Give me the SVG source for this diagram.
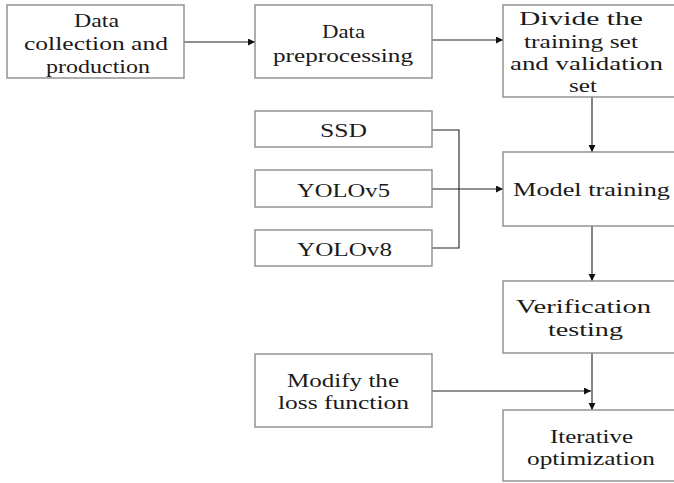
<svg xmlns="http://www.w3.org/2000/svg" width="674" height="483" viewBox="0 0 674 483">
<style>
.box{fill:#fff;stroke:#8c8c8c;stroke-width:1.4}
.t{font-family:'Liberation Serif','Times New Roman',serif;font-size:19.5px;fill:#1a1a1a;text-anchor:middle}
.c{fill:none;stroke:#222;stroke-width:1.1}
</style>
<defs>
<marker id="ah" markerUnits="userSpaceOnUse" markerWidth="8" markerHeight="8" refX="7" refY="3.5" orient="auto">
<path d="M0,0 L7,3.5 L0,7 z" fill="#111"/>
</marker>
</defs>
<rect width="674" height="483" fill="#fff"/>
<g id="connectors">
<path class="c" d="M184,42 H255" marker-end="url(#ah)"/>
<path class="c" d="M432,40 H503" marker-end="url(#ah)"/>
<path class="c" d="M592,97 V152" marker-end="url(#ah)"/>
<path class="c" d="M432,130 H459 V248 H432"/>
<path class="c" d="M432,189 H503" marker-end="url(#ah)"/>
<path class="c" d="M592,226 V281" marker-end="url(#ah)"/>
<path class="c" d="M592,353 V410" marker-end="url(#ah)"/>
<path class="c" d="M432,391 H591" marker-end="url(#ah)"/>
</g>
<g id="n1">
<rect class="box" x="7" y="5" width="177" height="73"/>
<text class="t" x="96.5" y="27" textLength="45" lengthAdjust="spacingAndGlyphs">Data</text>
<text class="t" x="96" y="50" textLength="144" lengthAdjust="spacingAndGlyphs">collection and</text>
<text class="t" x="98" y="73" textLength="104" lengthAdjust="spacingAndGlyphs">production</text>
</g>
<g id="n2">
<rect class="box" x="255" y="5" width="177" height="73"/>
<text class="t" x="343.5" y="38" textLength="43" lengthAdjust="spacingAndGlyphs">Data</text>
<text class="t" x="343" y="62" textLength="140" lengthAdjust="spacingAndGlyphs">preprocessing</text>
</g>
<g id="n3">
<rect class="box" x="503" y="5" width="180" height="92"/>
<text class="t" x="581" y="25" textLength="124" lengthAdjust="spacingAndGlyphs">Divide the</text>
<text class="t" x="581" y="48" textLength="114" lengthAdjust="spacingAndGlyphs">training set</text>
<text class="t" x="586.5" y="70" textLength="153" lengthAdjust="spacingAndGlyphs">and validation</text>
<text class="t" x="583" y="92" textLength="28" lengthAdjust="spacingAndGlyphs">set</text>
</g>
<g id="ssd">
<rect class="box" x="255" y="111" width="177" height="36"/>
<text class="t" x="343.5" y="137" textLength="47" lengthAdjust="spacingAndGlyphs">SSD</text>
</g>
<g id="yolov5">
<rect class="box" x="255" y="170" width="177" height="37"/>
<text class="t" x="343.5" y="197" textLength="93" lengthAdjust="spacingAndGlyphs">YOLOv5</text>
</g>
<g id="yolov8">
<rect class="box" x="255" y="230" width="177" height="36"/>
<text class="t" x="344.5" y="256" textLength="95" lengthAdjust="spacingAndGlyphs">YOLOv8</text>
</g>
<g id="n4">
<rect class="box" x="503" y="152" width="180" height="74"/>
<text class="t" x="591.5" y="196" textLength="157" lengthAdjust="spacingAndGlyphs">Model training</text>
</g>
<g id="n5">
<rect class="box" x="503" y="281" width="180" height="72"/>
<text class="t" x="583.5" y="313" textLength="135" lengthAdjust="spacingAndGlyphs">Verification</text>
<text class="t" x="585.5" y="336" textLength="75" lengthAdjust="spacingAndGlyphs">testing</text>
</g>
<g id="n6">
<rect class="box" x="255" y="354" width="177" height="73"/>
<text class="t" x="343" y="387" textLength="112" lengthAdjust="spacingAndGlyphs">Modify the</text>
<text class="t" x="343.5" y="409" textLength="131" lengthAdjust="spacingAndGlyphs">loss function</text>
</g>
<g id="n7">
<rect class="box" x="503" y="410" width="180" height="71"/>
<text class="t" x="591.5" y="443" textLength="83" lengthAdjust="spacingAndGlyphs">Iterative</text>
<text class="t" x="591" y="465" textLength="128" lengthAdjust="spacingAndGlyphs">optimization</text>
</g>
</svg>
